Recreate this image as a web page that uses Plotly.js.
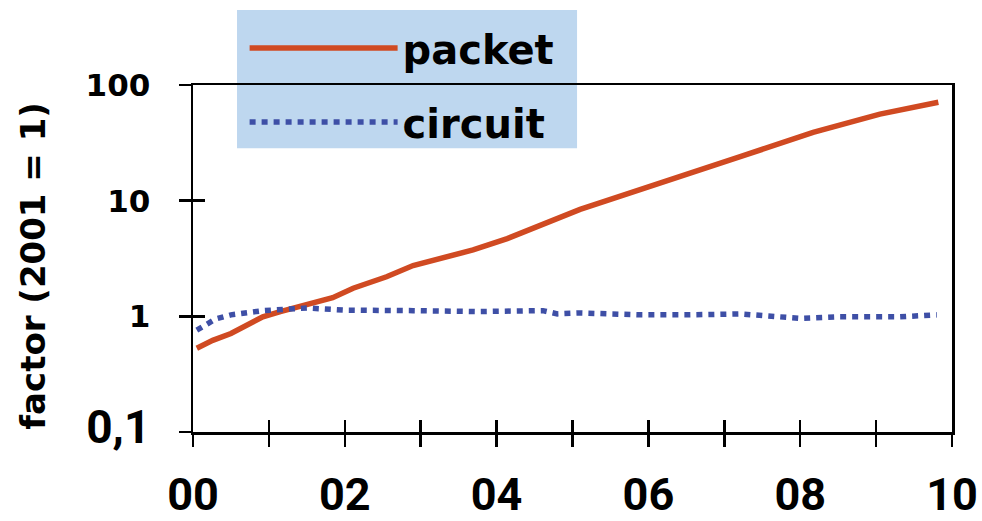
<!DOCTYPE html>
<html>
<head>
<meta charset="utf-8">
<script src="https://cdn.plot.ly/plotly-3.0.1.min.js"></script>
<style>html,body{margin:0;padding:0;background:#fff;}#chart{width:982px;height:521px;}</style>
</head>
<body>
<div id="chart"></div>
<script>
// Years since 2000 (00 = 2000)
var packetYears = [0.05, 0.26, 0.5, 0.72, 0.92, 1.15, 1.4, 1.58, 1.84, 2.11, 2.55, 2.9, 3.25, 3.69, 4.14, 4.57, 4.84, 5.1, 5.45, 5.89, 6.42, 7.21, 8.17, 9.05, 9.82];
var packetValues = [0.53, 0.62, 0.71, 0.84, 0.99, 1.1, 1.22, 1.3, 1.45, 1.75, 2.2, 2.75, 3.15, 3.75, 4.7, 6.1, 7.2, 8.4, 10.0, 12.4, 16.1, 24, 39, 56, 71];

var circuitYears = [0.05, 0.3, 0.5, 0.92, 1.5, 2.02, 2.9, 3.78, 4.61, 4.8, 5.1, 5.9, 6.55, 7.21, 8.0, 8.52, 9.31, 9.8];
var circuitValues = [0.76, 0.95, 1.03, 1.12, 1.18, 1.13, 1.12, 1.10, 1.12, 1.05, 1.07, 1.03, 1.03, 1.05, 0.96, 0.99, 0.99, 1.03];

var xTickVals = [0, 1, 2, 3, 4, 5, 6, 7, 8, 9, 10];
var xTickText = ["00", "", "02", "", "04", "", "06", "", "08", "", "10"];
var yTickVals = [0.1, 1, 10, 100];
var yTickText = ['<span style="font-family:Roboto;font-size:46px">0,1</span>', "1", "10", "100"];

var seriesNames = ["packet", "circuit"];
var yTitle = "factor (2001 = 1)";

var traces = [
  {
    x: packetYears, y: packetValues, name: seriesNames[0], type: "scatter", mode: "lines",
    line: {color: "#d04a22", width: 5.5}, legendgroup: "a", xaxis: "x", yaxis: "y"
  },
  {
    x: circuitYears, y: circuitValues, name: seriesNames[1], type: "scatter", mode: "lines",
    line: {color: "#3e4fa6", width: 5.5, dash: "6px,6px"}, legendgroup: "b", xaxis: "x2", yaxis: "y2"
  }
];

var layout = {
  width: 982, height: 521,
  margin: {l: 193, r: 30, t: 85, b: 89, pad: 0},
  paper_bgcolor: "#ffffff", plot_bgcolor: "rgba(0,0,0,0)",
  showlegend: true,
  legend: {
    x: 0.068, y: 1.20, xanchor: "left", yanchor: "top",
    bgcolor: "rgba(0,0,0,0)", borderwidth: 0,
    font: {family: "DejaVu Sans", size: 40, color: "#000", weight: "bold"},
    itemwidth: 148, tracegroupgap: 19, traceorder: "grouped"
  },
  shapes: [{
    type: "rect", xref: "paper", yref: "paper", layer: "below",
    x0: 0.058, x1: 0.506, y0: 0.818, y1: 1.216,
    fillcolor: "#bed7ef", line: {width: 0}
  }],
  annotations: [{
    text: yTitle, xref: "paper", yref: "paper", x: -0.21, y: 0.478,
    xanchor: "center", yanchor: "middle", textangle: -90, showarrow: false,
    font: {family: "DejaVu Sans", size: 34, color: "#000", weight: "bold"}
  }],
  xaxis: {
    range: [0, 10], tickmode: "array", tickvals: xTickVals, ticktext: xTickText,
    ticks: "outside", ticklen: 12, tickwidth: 2.5, tickcolor: "#000",
    showline: true, linewidth: 2.5, linecolor: "#000", mirror: true,
    showgrid: false, zeroline: false, ticklabelstandoff: 9,
    tickfont: {family: "Roboto", size: 45, color: "#000", weight: "bold"},
    fixedrange: true
  },
  xaxis2: {
    overlaying: "x", anchor: "y2", range: [0, 10], tickmode: "array", tickvals: xTickVals,
    ticks: "inside", ticklen: 12, tickwidth: 2.5, tickcolor: "#000",
    showticklabels: false, showline: false, showgrid: false, zeroline: false, fixedrange: true
  },
  yaxis: {
    type: "log", range: [-1, 2], tickmode: "array", tickvals: yTickVals, ticktext: yTickText,
    ticks: "outside", ticklen: 12, tickwidth: 2.5, tickcolor: "#000",
    showline: true, linewidth: 2.5, linecolor: "#000", mirror: true,
    showgrid: false, zeroline: false, ticklabelstandoff: 22,
    tickfont: {family: "DejaVu Sans", size: 31, color: "#000", weight: "bold"},
    fixedrange: true
  },
  yaxis2: {
    overlaying: "y", anchor: "x2", side: "left", type: "log", range: [-1, 2], tickmode: "array", tickvals: yTickVals,
    ticks: "inside", ticklen: 12, tickwidth: 2.5, tickcolor: "#000",
    showticklabels: false, showline: false, showgrid: false, zeroline: false, fixedrange: true
  }
};

Plotly.newPlot("chart", traces, layout, {displayModeBar: false, staticPlot: true});
</script>
</body>
</html>
